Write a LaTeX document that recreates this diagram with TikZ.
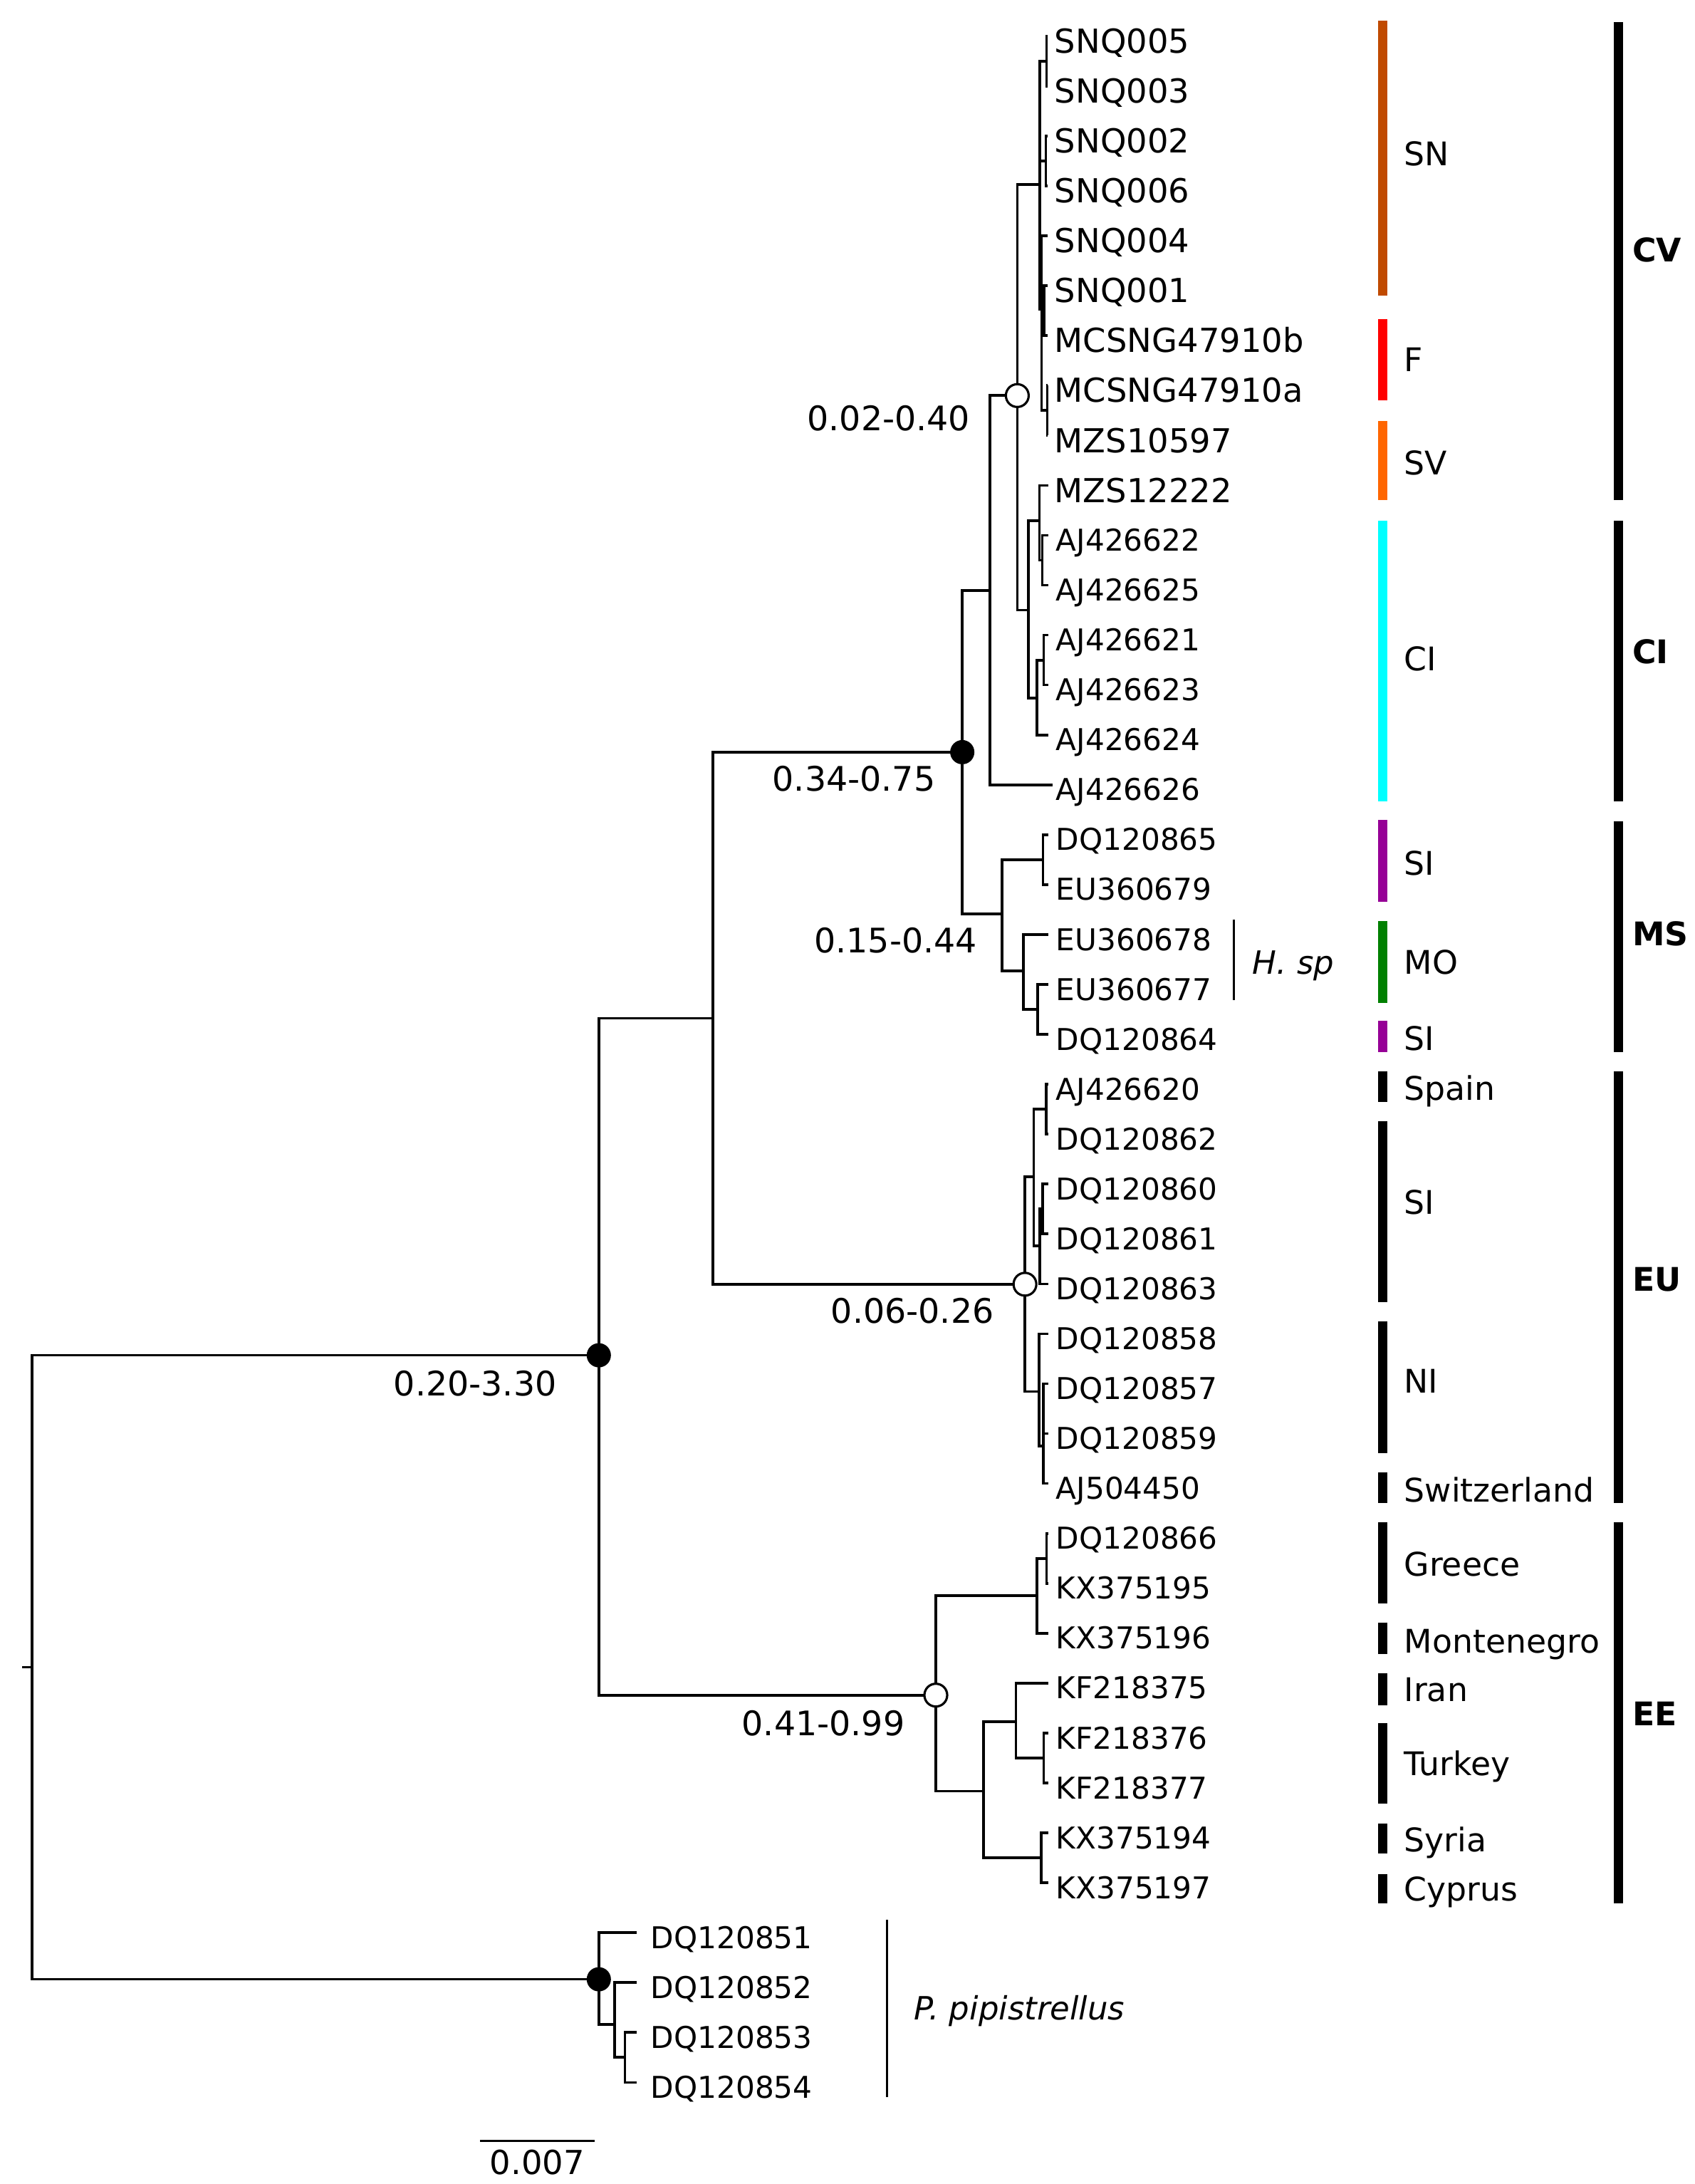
\documentclass[tikz,border=0pt]{standalone}
\usepackage{fontspec}
\setmainfont{DejaVu Sans}
\definecolor{snc}{RGB}{192,74,0}
\definecolor{fc}{RGB}{255,0,0}
\definecolor{svc}{RGB}{255,102,0}
\definecolor{cic}{RGB}{0,255,255}
\definecolor{sic}{RGB}{150,0,150}
\definecolor{moc}{RGB}{0,128,0}
\tikzset{
  branch/.style={line width=1.05pt},
  tipA/.style={font=\fontsize{13.2}{15}\selectfont, inner sep=0pt, anchor=base west},
  tipB/.style={font=\fontsize{12}{14}\selectfont, inner sep=0pt, anchor=base west},
  val/.style={font=\fontsize{13.5}{16}\selectfont, inner sep=0pt, anchor=base east},
  reg/.style={font=\fontsize{13}{15}\selectfont, inner sep=0pt, anchor=base west},
  grp/.style={font=\fontsize{13}{15}\selectfont\bfseries, inner sep=0pt, anchor=base west},
  spp/.style={font=\fontsize{12.8}{15}\selectfont\itshape, inner sep=0pt, anchor=base west},
  bar/.style={line width=3.7pt},
  thinbar/.style={line width=1pt},
  opn/.style={circle, draw, fill=white, line width=0.9pt, minimum size=0.32cm, inner sep=0pt},
  fll/.style={circle, fill=black, minimum size=0.34cm, inner sep=0pt}
}
\begin{document}
\begin{tikzpicture}[x=0.019548cm, y=-0.019548cm]
\useasboundingbox (0,0) rectangle (1217,1568);

% internal nodes
\coordinate (R0) at (23,1197);
\coordinate (rs) at (16,1197);
\coordinate (A) at (430,973);
\coordinate (B) at (512,731);
\coordinate (C) at (691,540);
\coordinate (E) at (711,424);
\coordinate (D) at (730.5,284);
\coordinate (I) at (746.5,132.5);
\coordinate (J) at (751.5,43.9);
\coordinate (K) at (751,115.6);
\coordinate (L) at (748,222);
\coordinate (M2) at (749.6,223);
\coordinate (M) at (752,294.7);
\coordinate (F) at (738.5,438);
\coordinate (G) at (746.4,374);
\coordinate (G2) at (748.5,402.2);
\coordinate (H) at (744.5,501);
\coordinate (H2) at (749.4,473.9);
\coordinate (MS) at (719.5,656);
\coordinate (P) at (749,617.2);
\coordinate (Q) at (735,697);
\coordinate (Rr) at (745,724.7);
\coordinate (EU) at (736,922);
\coordinate (S) at (742.3,845);
\coordinate (T) at (751.3,796.3);
\coordinate (U) at (746.5,894.6);
\coordinate (V) at (748.6,868);
\coordinate (W) at (746.1,999);
\coordinate (X) at (749.2,1038);
\coordinate (EE) at (672,1217);
\coordinate (Y) at (744.5,1145.4);
\coordinate (Z) at (751.5,1118.8);
\coordinate (AA) at (706.2,1286);
\coordinate (AB) at (729.5,1236);
\coordinate (AC) at (749.5,1262.1);
\coordinate (AD) at (747.6,1333.8);
\coordinate (PP) at (430,1421);
\coordinate (PQ) at (441.3,1453.3);
\coordinate (PR) at (448.7,1477.1);

% tips and labels
\foreach \i/\lab/\xe in {1/SNQ005/752.5, 2/SNQ003/752.5, 3/SNQ002/752.5, 4/SNQ006/752.5,
  5/SNQ004/752.5, 6/SNQ001/752.5, 7/MCSNG47910b/752.5, 8/MCSNG47910a/752.5,
  9/MZS10597/752.5, 10/MZS12222/753}{
  \pgfmathsetmacro\yy{26+35.83*(\i-1)}
  \coordinate (t\i) at (\xe,\yy);
  \node[tipA] (l\i) at (757,\yy+12.1) {\lab};
}
\foreach \i/\lab/\xe in {11/AJ426622/753, 12/AJ426625/753, 13/AJ426621/753, 14/AJ426623/753,
  15/AJ426624/753, 16/AJ426626/756, 17/DQ120865/753, 18/EU360679/753, 19/EU360678/753,
  20/EU360677/753, 21/DQ120864/753, 22/AJ426620/753, 23/DQ120862/753, 24/DQ120860/753,
  25/DQ120861/753, 26/DQ120863/753, 27/DQ120858/753, 28/DQ120857/753, 29/DQ120859/753,
  30/AJ504450/753, 31/DQ120866/753, 32/KX375195/753, 33/KX375196/753, 34/KF218375/753,
  35/KF218376/753, 36/KF218377/753, 37/KX375194/753, 38/KX375197/753}{
  \pgfmathsetmacro\yy{26+35.83*(\i-1)}
  \coordinate (t\i) at (\xe,\yy);
  \node[tipB] (l\i) at (758,\yy+11.3) {\lab};
}
\foreach \i/\lab in {39/DQ120851, 40/DQ120852, 41/DQ120853, 42/DQ120854}{
  \pgfmathsetmacro\yy{26+35.83*(\i-1)}
  \coordinate (t\i) at (457,\yy);
  \node[tipB] (l\i) at (467,\yy+11.3) {\lab};
}

% branches
\draw[branch] (rs) -- (R0);
\foreach \p/\c in {R0/A, R0/PP, A/B, A/EE, B/C, B/EU, C/E, C/MS, E/D, E/t16,
  D/I, D/F, I/J, I/K, I/L, J/t1, J/t2, K/t3, K/t4, L/t5, L/M2, L/M, M2/t6, M2/t7,
  M/t8, M/t9, F/G, F/H, G/t10, G/G2, G2/t11, G2/t12, H/H2, H/t15, H2/t13, H2/t14,
  MS/P, MS/Q, P/t17, P/t18, Q/t19, Q/Rr, Rr/t20, Rr/t21,
  EU/S, EU/W, S/T, S/U, T/t22, T/t23, U/V, U/t26, V/t24, V/t25, W/t27, W/X,
  X/t28, X/t29, X/t30,
  EE/Y, EE/AA, Y/Z, Y/t33, Z/t31, Z/t32, AA/AB, AA/AD, AB/t34, AB/AC,
  AC/t35, AC/t36, AD/t37, AD/t38,
  PP/t39, PP/PQ, PQ/t40, PQ/PR, PR/t41, PR/t42}{
  \draw[branch] (\p) |- (\c);
}

% node symbols
\node[opn] (cD) at (D) {};
\node[opn] (cEU) at (EU) {};
\node[opn] (cEE) at (EE) {};
\node[fll] (cC) at (C) {};
\node[fll] (cA) at (A) {};
\node[fll] (cPP) at (PP) {};

% node values
\node[val] (vD) at (697,308.9) {0.02-0.40};
\node[val] (vC) at (672,568) {0.34-0.75};
\node[val] (vMS) at (702,684) {0.15-0.44};
\node[val] (vEU) at (714,950) {0.06-0.26};
\node[val] (vA) at (400,1002) {0.20-3.30};
\node[val] (vEE) at (650,1246) {0.41-0.99};

% H. sp and P. pipistrellus
\coordinate (hs1) at (886,660);
\coordinate (hs2) at (886,718);
\draw[thinbar] (hs1) -- (hs2);
\node[spp] (hsp) at (899,699.6) {H. sp};
\coordinate (pp1) at (637,1378.5);
\coordinate (pp2) at (637,1505.8);
\draw[thinbar] (pp1) -- (pp2);
\node[spp] (ppl) at (656,1450.1) {P. pipistrellus};

% colored / locality bars
\foreach \ya/\yb/\col/\lab/\yt/\nm in {
  15/212/snc/SN/110.3/b1, 229/287.3/fc/F/258.3/b2, 302.4/358.9/svc/SV/332.5/b3,
  374/575.5/cic/CI/473/b4, 588.8/647.5/sic/SI/619.8/b5, 661.2/720/moc/MO/690.6/b6,
  733/755.2/sic/SI/745.4/b7, 769.2/791.1/black/Spain/781.3/b8, 804.8/934.6/black/SI/862.9/b9,
  948.7/1043.3/black/NI/991.7/b10, 1057/1079.3/black/Switzerland/1069.8/b11,
  1093.1/1151.4/black/Greece/1122.8/b12, 1164.8/1187.5/black/Montenegro/1178/b13,
  1201.3/1224.2/black/Iran/1213/b14, 1237.3/1295/black/Turkey/1266/b15,
  1309.4/1330.6/black/Syria/1321/b16, 1345.5/1366.7/black/Cyprus/1356/b17}{
  \coordinate (\nm a) at (993,\ya);
  \coordinate (\nm b) at (993,\yb);
  \draw[bar, \col] (\nm a) -- (\nm b);
  \node[reg] (\nm t) at (1008,\yt+8.6) {\lab};
}

% clade bars
\foreach \ya/\yb/\lab/\yt/\nm in {16/359/CV/179.2/g1, 374/575.5/CI/468/g2,
  589.8/755.2/MS/670.4/g3, 769.2/1079.3/EU/918.3/g4, 1093.1/1366.7/EE/1230.5/g5}{
  \coordinate (\nm a) at (1162,\ya);
  \coordinate (\nm b) at (1162,\yb);
  \draw[bar, black] (\nm a) -- (\nm b);
  \node[grp] (\nm t) at (1172,\yt+8.6) {\lab};
}

% scale bar
\coordinate (sb1) at (344.6,1537);
\coordinate (sb2) at (426.8,1537);
\draw[branch] (sb1) -- (sb2);
\node[font=\fontsize{13.2}{15}\selectfont, inner sep=0pt, anchor=base] (sbt) at (385.7,1561) {0.007};
\end{tikzpicture}
\end{document}
